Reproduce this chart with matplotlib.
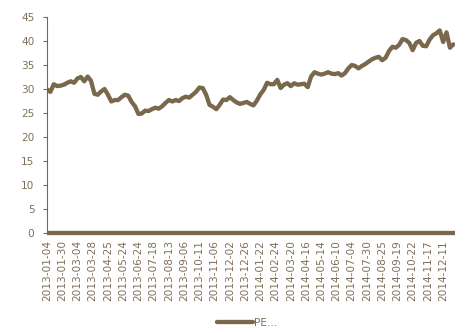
import numpy as np
import matplotlib
matplotlib.use("Agg")
import matplotlib.pyplot as plt

# PE readings, one every 4 trading days (2013-01-04 .. 2014-12-31)
STEP = 4
pe = [29.9, 29.4, 31.0, 30.6, 30.7, 30.9, 31.3, 31.6, 31.3, 32.2,
      32.5, 31.6, 32.6, 31.7, 29.0, 28.8, 29.5, 30.0, 28.8, 27.4,
      27.7, 27.7, 28.3, 28.8, 28.6, 27.3, 26.4, 24.8, 24.9, 25.5,
      25.4, 25.8, 26.1, 25.9, 26.4, 27.1, 27.7, 27.4, 27.7, 27.5,
      28.1, 28.4, 28.2, 28.8, 29.4, 30.3, 30.2, 28.8, 26.7, 26.3,
      25.8, 26.7, 27.8, 27.7, 28.3, 27.7, 27.2, 26.9, 27.1, 27.3,
      26.9, 26.6, 27.6, 28.9, 29.8, 31.3, 31.0, 31.0, 31.9, 30.2,
      30.9, 31.2, 30.6, 31.2, 30.9, 31.0, 31.1, 30.4, 32.6, 33.5,
      33.2, 33.0, 33.2, 33.5, 33.2, 33.1, 33.3, 32.8, 33.3, 34.3,
      35.0, 34.8, 34.3, 34.8, 35.2, 35.7, 36.2, 36.5, 36.7, 36.0,
      36.5, 37.9, 38.8, 38.6, 39.2, 40.4, 40.2, 39.6, 38.1, 39.6,
      40.0, 39.0, 38.9, 40.3, 41.2, 41.6, 42.2, 39.8, 41.8, 38.6,
      39.3]
N_DAYS = 483  # trading days in the window

# tick labels, one every 18 trading days
TICK_STEP = 18
tick_labels = ["2013-01-04", "2013-01-30", "2013-03-04", "2013-03-28", "2013-04-25",
               "2013-05-24", "2013-06-24", "2013-07-18", "2013-08-13", "2013-09-06",
               "2013-10-11", "2013-11-06", "2013-12-02", "2013-12-26", "2014-01-22",
               "2014-02-24", "2014-03-20", "2014-04-16", "2014-05-14", "2014-06-10",
               "2014-07-04", "2014-07-30", "2014-08-25", "2014-09-19", "2014-10-22",
               "2014-11-17", "2014-12-11"]

color = "#7A684C"
text_color = "#7F6F57"
plt.rcParams['font.family'] = ['DejaVu Sans']

fig = plt.figure(figsize=(4.77, 3.33), dpi=100)
ax = fig.add_axes([47/477, 1-233/333, 408/477, 216/333])

x = np.arange(len(pe)) * STEP
ax.plot(x, pe, color=color, lw=3.1, solid_joinstyle='round',
        solid_capstyle='round', label="PE...")

ax.set_xlim(0, N_DAYS - 1)
ax.set_ylim(0, 45)
ax.set_yticks(np.arange(0, 46, 5))
ax.set_xticks(np.arange(len(tick_labels)) * TICK_STEP)
ax.set_xticklabels(tick_labels, rotation=90)

for s in ['top', 'right']:
    ax.spines[s].set_visible(False)
ax.spines['left'].set_color(color)
ax.spines['left'].set_linewidth(0.8)
ax.spines['bottom'].set_color(color)
ax.spines['bottom'].set_linewidth(3.1)
ax.spines['bottom'].set_capstyle('butt')

ax.tick_params(axis='y', colors=text_color, labelsize=7.6, length=3,
               width=0.8, pad=6, color=color)
ax.tick_params(axis='x', colors=text_color, labelsize=7.6, length=0, pad=5)

fig.legend(loc='center', bbox_to_anchor=(0.518, 0.031), frameon=False,
           fontsize=7.6, labelcolor=text_color, handlelength=3.4,
           handletextpad=0.1)

fig.savefig("out.png", dpi=100)
